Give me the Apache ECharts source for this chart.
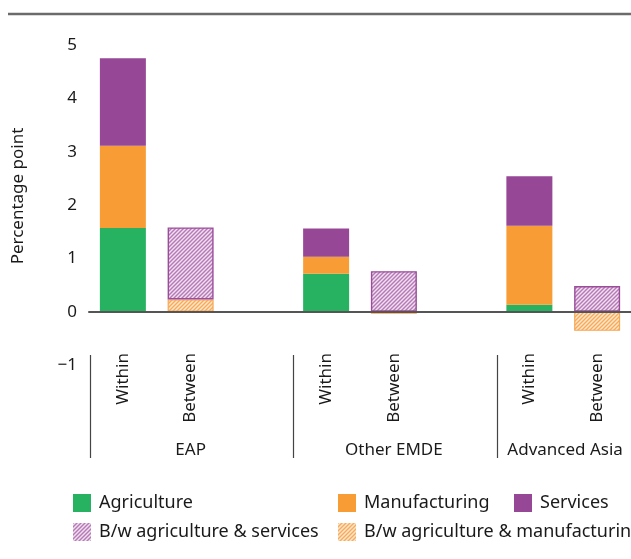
<!DOCTYPE html>
<html>
<head>
<meta charset="utf-8">
<script src="https://cdn.jsdelivr.net/npm/echarts@6/dist/echarts.min.js"></script>
<style>
html,body{margin:0;padding:0;background:#fff;}
#chart{width:631px;height:559px;}
</style>
</head>
<body>
<div id="chart"></div>
<script>
// ---- Data ----
const categories = ['Within', 'Between', '', 'Within', 'Between', '', 'Within', 'Between'];
const groupLabels = ['', 'EAP', '', '', 'Other EMDE', '', '', 'Advanced Asia'];
const agriculture   = [1.57, null, null, 0.71, null, null, 0.13, null];
const manufacturing = [1.54, null, null, 0.32, null, null, 1.48, null];
const services      = [1.64, null, null, 0.53, null, null, 0.93, null];
const bwAgriManuf   = [null, 0.23, null, null, -0.04, null, null, -0.36];
const bwAgriServ    = [null, 1.35, null, null, 0.76, null, null, 0.48];
const yMin = -1, yMax = 5, yStep = 1;

// ---- Helpers ----
const keys = categories.map((c, i) => 'c' + i);
function hatch(bg, line) {
  const s = 4;
  const c = document.createElement('canvas');
  c.width = s; c.height = s;
  const g = c.getContext('2d');
  g.fillStyle = bg; g.fillRect(0, 0, s, s);
  g.strokeStyle = line; g.lineWidth = 1.4;
  g.beginPath();
  g.moveTo(-1, s + 1); g.lineTo(s + 1, -1);
  g.moveTo(-1, 1); g.lineTo(1, -1);
  g.moveTo(s - 1, s + 1); g.lineTo(s + 1, s - 1);
  g.stroke();
  return { image: c, repeat: 'repeat' };
}
const FONT = 'Noto Sans';
const TXT = '#1a1a1a';

const chart = echarts.init(document.getElementById('chart'), null, { renderer: 'canvas' });

const legendBase = {
  orient: 'vertical', itemWidth: 18, itemHeight: 18, itemGap: 11, icon: 'rect', padding: 0,
  itemStyle: { borderWidth: 0 },
  textStyle: { fontSize: 18, color: TXT, fontFamily: FONT, padding: [0, 0, 0, 3] },
  selectedMode: false
};

const option = {
  animation: false,
  textStyle: { fontFamily: FONT },
  grid: { left: 89, top: 45, width: 544, height: 320, containLabel: false },
  legend: [
    Object.assign({}, legendBase, { left: 73, top: 494, data: ['Agriculture', 'B/w agriculture & services'] }),
    Object.assign({}, legendBase, { left: 338, top: 494, data: ['Manufacturing', 'B/w agriculture & manufacturing'] }),
    Object.assign({}, legendBase, { left: 514, top: 494, data: ['Services'] })
  ],
  xAxis: [
    {
      type: 'category', data: keys, z: 10,
      axisLine: { show: true, onZero: true, lineStyle: { color: '#555', width: 2 } },
      axisTick: { show: false }, axisLabel: { show: false }
    },
    {
      type: 'category', data: keys, position: 'bottom', offset: -12,
      axisLine: { show: false }, axisTick: { show: false },
      axisLabel: { interval: 0, rotate: 90, margin: 0, fontSize: 17, color: TXT, fontFamily: FONT,
        formatter: (v, i) => categories[i] }
    },
    {
      type: 'category', position: 'bottom', offset: 0,
      data: keys.map((k, i) => i === keys.length - 1 ? { value: k, textStyle: { padding: [0, 64, 0, 0] } } : k),
      axisLine: { show: false }, axisTick: { show: false },
      axisLabel: { interval: 0, margin: 77, fontSize: 17, color: TXT, fontFamily: FONT,
        formatter: (v, i) => groupLabels[i] }
    }
  ],
  yAxis: {
    type: 'value', min: yMin, max: yMax, interval: yStep,
    splitLine: { show: false }, axisLine: { show: false }, axisTick: { show: false },
    axisLabel: { margin: 12, fontSize: 17, color: TXT, fontFamily: FONT,
      formatter: v => (v < 0 ? '\u2212' + Math.abs(v) : String(v)) },
    name: 'Percentage point', nameLocation: 'middle', nameGap: 62,
    nameTextStyle: { fontSize: 17, color: TXT, fontFamily: FONT, padding: [0, 0, 0, 18] }
  },
  series: [
    { name: 'Agriculture', type: 'bar', stack: 's', barWidth: 46, data: agriculture,
      itemStyle: { color: '#27b262' } },
    { name: 'Manufacturing', type: 'bar', stack: 's', barWidth: 46, data: manufacturing,
      itemStyle: { color: '#f89d36' } },
    { name: 'Services', type: 'bar', stack: 's', barWidth: 46, data: services,
      itemStyle: { color: '#964796' } },
    { name: 'B/w agriculture & manufacturing', type: 'bar', stack: 's', barWidth: 46, data: bwAgriManuf,
      itemStyle: { color: hatch('#fde6cc', '#f6ab5c'), borderColor: '#f7a853', borderWidth: 1.2 } },
    { name: 'B/w agriculture & services', type: 'bar', stack: 's', barWidth: 46, data: bwAgriServ,
      itemStyle: { color: hatch('#f1dff1', '#b37ab3'), borderColor: '#9b4d9b', borderWidth: 1.4 } }
  ]
};
chart.setOption(option);

// Separators between groups and the top rule
const px = i => chart.convertToPixel({ xAxisIndex: 0 }, keys[i]);
const step = px(1) - px(0);
const sepIdx = [0, 3, 6];
const graphics = sepIdx.map(i => ({
  type: 'line', silent: true,
  shape: { x1: Math.round(px(i) - step / 2) + 1.5, y1: 355, x2: Math.round(px(i) - step / 2) + 1.5, y2: 458 },
  style: { stroke: '#444', lineWidth: 1.2 }
}));
graphics.push({
  type: 'line', silent: true,
  shape: { x1: 8, y1: 14, x2: 631, y2: 14 },
  style: { stroke: '#6b6b6b', lineWidth: 2.5 }
});
chart.setOption({ graphic: graphics });
</script>
</body>
</html>
